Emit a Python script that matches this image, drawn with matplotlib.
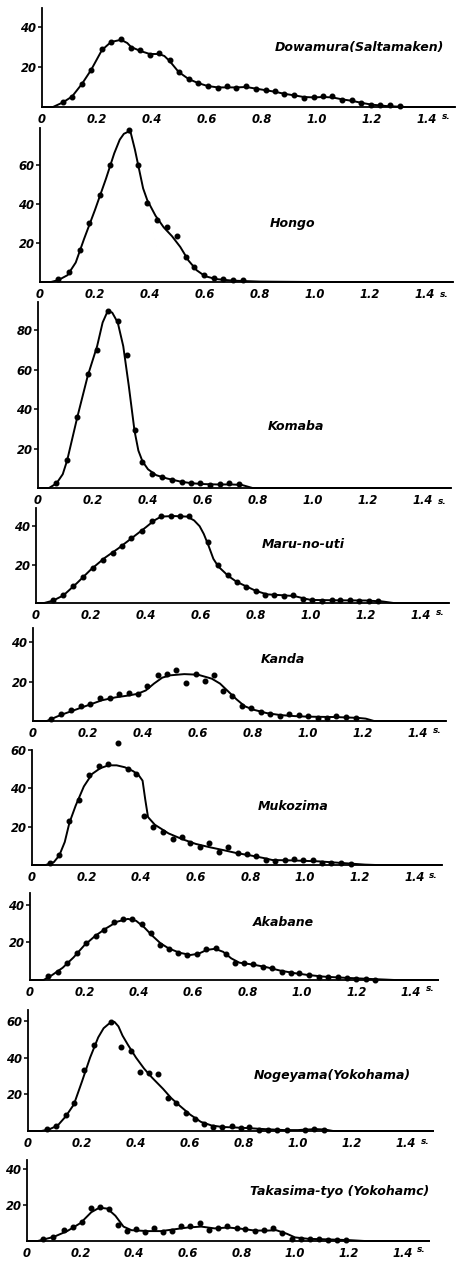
import matplotlib
matplotlib.use("Agg")
import matplotlib.pyplot as plt

# ---------------- data ----------------
names = ["Dowamura(Saltamaken)", "Hongo", "Komaba", "Maru-no-uti", "Kanda",
         "Mukozima", "Akabane", "Nogeyama(Yokohama)", "Takasima-tyo (Yokohamc)"]
xtick_vals = [0, 0.2, 0.4, 0.6, 0.8, 1.0, 1.2, 1.4]
xtick_labels = ["0", "0.2", "0.4", "0.6", "0.8", "1.0", "1.2", "1.4"]

# 1 Dowamura
d1x = [0.076,0.109,0.145,0.178,0.218,0.251,0.287,0.324,0.358,0.392,0.425,0.464,0.497,0.533,0.567,0.602,0.639,0.673,0.707,0.743,0.777,0.813,0.848,0.881,0.918,0.952,0.988,1.022,1.056,1.092,1.127,1.161,1.198,1.230,1.267,1.300]
d1y = [2.6,5.2,11.7,18.4,28.8,32.6,33.8,29.6,28.5,26,27.2,23.4,17.3,13.8,11.8,10.5,9.4,10.6,9.5,10.4,9.1,8.3,7.8,6.4,5.9,4.4,4.8,5.6,5.3,3.6,3.7,2.2,0.9,0.9,0.8,0.6]
c1x = [0,0.04,0.076,0.109,0.145,0.178,0.218,0.251,0.287,0.31,0.324,0.358,0.392,0.425,0.445,0.464,0.497,0.533,0.567,0.602,0.639,0.673,0.707,0.743,0.777,0.813,0.848,0.881,0.918,0.952,0.988,1.022,1.056,1.092,1.127,1.161,1.198,1.25,1.32,1.5]
c1y = [0,0,2.3,5.2,11.5,18.4,28.5,32.5,33.6,32,30,28,26.5,26.5,25.5,23,17.5,14,12,10.5,9.8,9.8,9.8,10,9.2,8.4,7.6,6.6,5.8,5,4.8,5,4.8,3.8,3.1,2.1,1.2,0.5,0,0]

# 2 Hongo
d2x = [0.067,0.105,0.145,0.179,0.218,0.255,0.325,0.358,0.39,0.427,0.461,0.497,0.53,0.561,0.596,0.633,0.667,0.703,0.739]
d2y = [1.3,5,16.4,30.1,44.4,60,78,60.2,40.5,32,28,23.8,13,7.7,3.5,2.2,1.4,1.1,1.2]
c2x = [0,0.04,0.067,0.1,0.13,0.16,0.2,0.24,0.27,0.29,0.305,0.32,0.33,0.345,0.36,0.375,0.39,0.42,0.45,0.48,0.51,0.54,0.57,0.6,0.64,0.7,0.8,1.0,1.5]
c2y = [0,0,1,3.5,10,22,37,53,66,73,76,77,76.5,68,58,48,42,34,28,23.5,18,11,6,3,1.5,0.7,0.2,0,0]

# 3 Komaba
d3x = [0.067,0.106,0.143,0.181,0.215,0.254,0.29,0.322,0.351,0.379,0.415,0.45,0.488,0.524,0.558,0.59,0.625,0.66,0.695,0.73]
d3y = [2.6,14.3,36,58,69.8,90,84.7,67.3,29.4,13,7,5.4,4.2,2.8,2.3,2.5,1.5,1.8,2.4,2]
c3x = [0,0.04,0.067,0.09,0.106,0.143,0.181,0.215,0.235,0.254,0.27,0.29,0.31,0.33,0.351,0.365,0.38,0.4,0.43,0.47,0.52,0.56,0.6,0.65,0.7,0.74,0.78,1.5]
c3y = [0,0,2.3,7,14,36,57,72,84,90,89,84,72,52,29,19,13.5,9.5,6.5,4.8,3.2,2.4,2,1.8,1.8,1.6,0,0]

# 4 Maru-no-uti
d4x = [0.063,0.099,0.136,0.17,0.206,0.242,0.279,0.313,0.347,0.384,0.421,0.455,0.49,0.524,0.558,0.627,0.663,0.697,0.73,0.764,0.799,0.833,0.865,0.902,0.936,0.97,1.002,1.039,1.075,1.105,1.142,1.176,1.212,1.245]
d4y = [1.5,4,9,13.7,18.2,22.6,26.3,29.7,33.8,37.3,42.6,45.3,45.4,45.4,45.5,31.7,19.6,14.5,11.1,8.5,6.3,4.3,4.4,3.9,4,2,1.7,1.3,1.4,1.4,1.5,1.2,1.3,0.8]
c4x = [0,0.03,0.063,0.1,0.15,0.2,0.25,0.3,0.35,0.4,0.43,0.455,0.5,0.55,0.575,0.595,0.61,0.627,0.645,0.663,0.7,0.73,0.77,0.8,0.84,0.9,0.94,0.98,1.0,1.1,1.2,1.26,1.3,1.5]
c4y = [0,0,1.3,4,10.5,17.5,23.5,28.5,34,39.5,43,45,45.3,45,43,40,36,30,23,19,14,11,8.3,6.3,4.5,4,3.6,2.2,1.6,1.4,1.3,0.8,0,0]

# 5 Kanda
d5x = [0.067,0.103,0.137,0.173,0.208,0.245,0.279,0.313,0.349,0.382,0.416,0.455,0.488,0.521,0.558,0.591,0.624,0.658,0.691,0.725,0.761,0.794,0.828,0.861,0.897,0.931,0.966,1.0,1.036,1.07,1.103,1.137,1.173]
d5y = [1.2,3.6,5.5,7.6,8.6,11.9,11.9,13.6,14,13.8,17.8,23.3,24,26,19.5,23.8,20.3,23.1,15.2,12.8,7.8,6.7,4.5,3.6,2.3,3.8,2.8,2.6,1.7,1.7,2.4,1.9,1.5]
c5x = [0,0.05,0.1,0.15,0.2,0.25,0.3,0.35,0.38,0.41,0.44,0.47,0.5,0.55,0.6,0.65,0.68,0.71,0.74,0.77,0.8,0.85,0.9,0.95,1.0,1.1,1.18,1.21,1.24,1.5]
c5y = [0,0,3,5.5,8,10.5,12,13,13.8,15.5,19,22,23.2,23.8,23.5,21.5,19,15,11,7.5,5.8,4,3,2.5,2.2,2,1.6,1.2,0,0]

# 6 Mukozima
d6x = [0.067,0.1,0.137,0.172,0.21,0.246,0.28,0.316,0.352,0.382,0.412,0.445,0.479,0.515,0.548,0.579,0.616,0.648,0.685,0.718,0.753,0.788,0.822,0.858,0.891,0.925,0.96,0.994,1.028,1.063,1.097,1.133,1.167]
d6y = [1,5.4,23,34,47,51.5,52.7,63.5,50.3,47.5,25.7,20,17.4,13.6,14.6,11.6,9.4,11.4,7,9.2,6.1,5.9,4.8,2.6,2.3,2.4,3.1,2.6,2.6,1,0.9,0.9,0.5]
c6x = [0,0.05,0.08,0.1,0.12,0.137,0.16,0.19,0.22,0.25,0.28,0.31,0.34,0.37,0.39,0.405,0.415,0.425,0.45,0.5,0.55,0.6,0.65,0.7,0.75,0.8,0.85,0.88,0.95,1.05,1.12,1.18,1.22,1.26,1.5]
c6y = [0,0,1.5,5,12,22,31,41,47.5,50.5,52,52,51,49,47,44,34,25,21,16.5,13.5,11,9.3,7.8,6.2,5,3.6,2.6,2.4,1.9,1.2,0.6,0.2,0,0]

# 7 Akabane
d7x = [0.067,0.103,0.136,0.172,0.206,0.242,0.273,0.309,0.342,0.376,0.41,0.444,0.479,0.512,0.545,0.579,0.615,0.647,0.684,0.719,0.752,0.785,0.82,0.855,0.888,0.925,0.958,0.99,1.027,1.063,1.097,1.133,1.167,1.2,1.236,1.27]
d7y = [1.9,4.2,9.2,14.2,19.8,23.5,26.7,30.6,32.4,32.2,29.6,24.8,18.6,16.5,14.3,13.5,13.8,16.6,17.2,13.6,8.8,8.8,8.7,6.9,6.4,4.4,3.9,3.5,2.5,1.4,1.4,1.6,1.2,0.7,0.5,0.2]
c7x = [0,0.05,0.08,0.12,0.16,0.2,0.24,0.28,0.32,0.36,0.39,0.42,0.45,0.48,0.51,0.55,0.59,0.62,0.65,0.68,0.71,0.74,0.77,0.82,0.87,0.92,0.97,1.02,1.08,1.14,1.2,1.26,1.31,1.34,1.5]
c7y = [0,0,2.5,6.5,12,18.5,23.5,27.5,31,32.5,31.5,28,23.5,19.5,16.8,14.5,13.3,14,16,16.6,15,11.5,9.2,8.2,6.8,5,3.7,2.7,1.8,1.3,0.9,0.5,0.2,0,0]

# 8 Nogeyama
d8x = [0.069,0.105,0.139,0.172,0.208,0.245,0.309,0.345,0.382,0.415,0.448,0.481,0.518,0.548,0.584,0.617,0.651,0.685,0.72,0.754,0.788,0.82,0.857,0.89,0.924,0.958,1.027,1.06,1.095]
d8y = [0.9,2.9,8.5,15,33.5,47,59.4,45.6,43.6,32,31.5,31,18,15,9.6,6.7,3.8,2.4,2.4,2.6,1.6,2,0.8,0.8,0.6,0.5,0.8,0.9,0.5]
c8x = [0,0.05,0.08,0.11,0.14,0.17,0.2,0.23,0.26,0.28,0.3,0.32,0.335,0.35,0.37,0.4,0.43,0.46,0.5,0.53,0.56,0.6,0.64,0.68,0.72,0.8,0.88,0.95,1.0,1.03,1.07,1.1,1.13,1.5]
c8y = [0,0,1,3,8,14.5,27,40,51,56,58.5,59.5,57,52,47,40,34,29,23,18,14,9,5,3,2.2,1.7,1,0.5,0.5,0.8,1,0.8,0,0]

# 9 Takasima-tyo
d9x = [0.06,0.097,0.137,0.17,0.204,0.239,0.273,0.307,0.34,0.373,0.406,0.44,0.473,0.509,0.542,0.576,0.61,0.645,0.679,0.713,0.748,0.782,0.815,0.85,0.885,0.919,0.953,0.988,1.022,1.055,1.09,1.124,1.158,1.19]
d9y = [0.9,2,5.9,7.9,10.8,18.3,18.9,17.8,8.8,5.3,6.8,5.1,7.2,5.1,5.7,8.3,8.1,9.9,6,7.2,8.6,7.5,6.8,5.7,5.9,7.3,4.2,1.3,1.2,1.2,1,0.8,0.5,0.3]
c9x = [0,0.04,0.1,0.15,0.2,0.24,0.27,0.3,0.33,0.36,0.39,0.45,0.5,0.55,0.6,0.65,0.7,0.75,0.8,0.85,0.9,0.93,0.97,1.0,1.05,1.1,1.2,1.26,1.5]
c9y = [0,0,2.3,5.5,10,16,18.5,18,14,8,6,5.5,5.5,6.5,7.5,8,7,7.5,6.8,5.8,5.8,6,4,2,1.2,1,0.5,0,0]

yticks_list = [[20, 40], [20, 40, 60], [20, 40, 60, 80], [20, 40], [20, 40],
               [20, 40, 60], [20, 40], [20, 40, 60], [20, 40]]

dots = [(d1x, d1y), (d2x, d2y), (d3x, d3y), (d4x, d4y), (d5x, d5y),
        (d6x, d6y), (d7x, d7y), (d8x, d8y), (d9x, d9y)]
curves = [(c1x, c1y), (c2x, c2y), (c3x, c3y), (c4x, c4y), (c5x, c5y),
          (c6x, c6y), (c7x, c7y), (c8x, c8y), (c9x, c9y)]

# ---------------- layout (pixels) ----------------
W, H = 457, 1267
# left, top, bottom, px per unit, px per second
layout = [
    (42, 8, 107, 2.00, 275),
    (40, 128, 282, 1.95, 275),
    (38, 302, 488, 1.97, 275),
    (36, 508, 603, 1.92, 275),
    (33, 628, 721, 1.97, 275),
    (32, 750, 865, 1.92, 273),
    (30, 893, 980, 1.88, 272),
    (28, 1010, 1131, 1.835, 270),
    (27, 1160, 1241, 1.80, 268),
]
title_pos = [(359, 47), (293, 223), (296, 427), (303, 545), (283, 660),
             (293, 807), (283, 922), (332, 1075), (340, 1192)]

XMAX = 1.5
fig = plt.figure(figsize=(W / 100, H / 100), dpi=100)
fig.patch.set_facecolor("white")

fp = dict(fontweight="bold", fontstyle="italic", family="DejaVu Sans")

for i in range(9):
    left, top, bottom, ppu, pps = layout[i]
    width = XMAX * pps
    ax = fig.add_axes([left / W, 1 - bottom / H, width / W, (bottom - top) / H])
    cx, cy = curves[i]
    dx, dy = dots[i]
    ax.plot(cx, cy, color="black", lw=1.4, solid_joinstyle="round", clip_on=False)
    ax.plot(dx, dy, "o", color="black", ms=3.3, clip_on=False)
    ax.set_xlim(0, XMAX)
    ax.set_ylim(0, (bottom - top) / ppu)
    for s in ("top", "right"):
        ax.spines[s].set_visible(False)
    for s in ("left", "bottom"):
        ax.spines[s].set_linewidth(1.3)
    ax.set_xticks(xtick_vals)
    ax.set_xticklabels(xtick_labels, fontsize=8.3, **fp)
    ax.set_yticks(yticks_list[i])
    ax.set_yticklabels([str(v) for v in yticks_list[i]], fontsize=8.3, **fp)
    ax.tick_params(axis="x", length=0, pad=4)
    ax.tick_params(axis="y", length=3, width=1.1, direction="out", pad=1)
    ax.text(1.455, -0.05, "s.", transform=ax.get_xaxis_transform(),
            fontsize=6.5, ha="left", va="top", **fp)
    tx, ty = title_pos[i]
    fig.text(tx / W, 1 - ty / H, names[i], fontsize=9, ha="center",
             va="center", **fp)

fig.savefig("out.png", dpi=100, facecolor="white")
